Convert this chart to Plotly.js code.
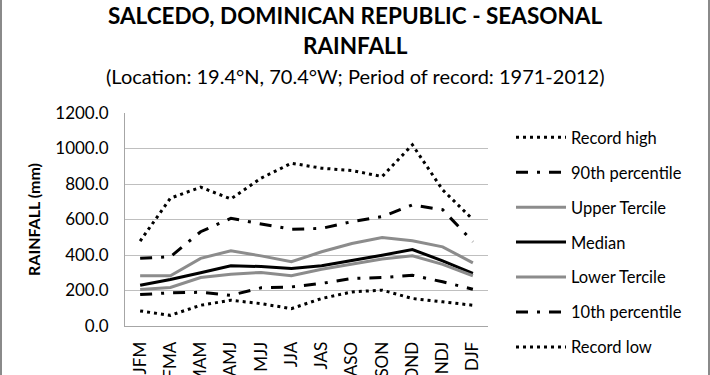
<!DOCTYPE html>
<html>
<head>
<meta charset="utf-8">
<script src="https://cdn.plot.ly/plotly-3.0.1.min.js"></script>
<style>
html,body{margin:0;padding:0;background:#fff;}
#chart{width:710px;height:375px;position:relative;}
#bl{position:absolute;left:0;top:0;width:2px;height:375px;background:#8a8a8a;}
#br{position:absolute;left:708px;top:0;width:2px;height:375px;background:#8a8a8a;}
</style>
</head>
<body>
<div id="chart"></div>
<div id="bl"></div><div id="br"></div>
<script>
const seasons = ["JFM","FMA","MAM","AMJ","MJJ","JJA","JAS","ASO","SON","OND","NDJ","DJF"];
const recordHigh = [478, 720, 782, 716, 833, 917, 889, 876, 842, 1021, 767, 600];
const p90 = [381, 390, 531, 607, 575, 545, 550, 588, 616, 682, 655, 475];
const upperTercile = [283, 283, 381, 424, 395, 362, 418, 465, 499, 480, 446, 356];
const median = [230, 262, 300, 339, 335, 324, 339, 367, 399, 431, 367, 297];
const lowerTercile = [205, 217, 273, 292, 302, 283, 320, 347, 377, 396, 347, 283];
const p10 = [177, 187, 190, 173, 215, 220, 240, 268, 273, 286, 249, 207];
const recordLow = [85, 60, 117, 145, 126, 98, 155, 192, 202, 155, 136, 117];

const FONT = "Lato, 'Open Sans', sans-serif";
function tr(name, y, color, dash, g){
  return {type:'scatter', mode:'lines', x:seasons, y:y, name:name, legendgroup:g,
    line:{color:color, width:3, dash:dash}, hoverinfo:'skip'};
}
const dotted = "3px,4px";
const ldd = "12px,9px,3px,9px";
const data = [
  tr("Record high", recordHigh, "#000000", dotted, "a"),
  tr("90th percentile", p90, "#000000", ldd, "b"),
  tr("Upper Tercile", upperTercile, "#8c8c8c", "solid", "c"),
  tr("Median", median, "#000000", "solid", "d"),
  tr("Lower Tercile", lowerTercile, "#8c8c8c", "solid", "e"),
  tr("10th percentile", p10, "#000000", ldd, "f"),
  tr("Record low", recordLow, "#000000", dotted, "g")
];
const layout = {
  width:710, height:375,
  margin:{l:125, r:222, t:113, b:49},
  paper_bgcolor:'#ffffff', plot_bgcolor:'#ffffff',
  font:{family:FONT, color:'#222222', size:16},
  title:{text:"<b>SALCEDO, DOMINICAN REPUBLIC - SEASONAL</b>", font:{family:FONT, size:22.5, color:'#000'},
    x:0.5, xref:'container', xanchor:'center', y:1-16/375, yref:'container', yanchor:'middle'},
  annotations:[
    {text:"<b>RAINFALL</b>", xref:'paper', yref:'paper', x:(355-125)/363, y:1+(113-46)/212.6, xanchor:'center', yanchor:'middle', showarrow:false, font:{family:FONT, size:22.5, color:'#000'}},
    {text:"(Location: 19.4°N, 70.4°W; Period of record: 1971-2012)", xref:'paper', yref:'paper', x:(355-125)/363, y:1+(113-76)/212.6, xanchor:'center', yanchor:'middle', showarrow:false, font:{family:FONT, size:20, color:'#000'}}
  ],
  xaxis:{type:'category', range:[-0.5,11.5], tickangle:-90, ticks:'', showgrid:false,
    showline:true, linecolor:'#a6a6a6', linewidth:1, tickfont:{family:FONT, size:17, color:'#000'},
    ticklabelstandoff:8, automargin:false, fixedrange:true},
  yaxis:{range:[0,1200], dtick:200, tickformat:'.1f', ticks:'', showgrid:true, gridcolor:'#bfbfbf', gridwidth:1,
    showline:true, linecolor:'#a6a6a6', linewidth:1, zeroline:false,
    tickfont:{family:FONT, size:17, color:'#000'}, ticklabelstandoff:12, automargin:false,
    title:{text:"<b>RAINFALL (mm)</b>", font:{family:FONT, size:16, color:'#000'}, standoff:10}, fixedrange:true},
  showlegend:true,
  legend:{xref:'container', yref:'container', x:511/710, y:1-120/375, xanchor:'left', yanchor:'top',
    font:{family:FONT, size:16.5, color:'#000'}, tracegroupgap:10.5, itemwidth:50, maxheight:400,
    bgcolor:'rgba(0,0,0,0)'}
};
Plotly.newPlot('chart', data, layout, {staticPlot:true, displayModeBar:false});
</script>
</body>
</html>
